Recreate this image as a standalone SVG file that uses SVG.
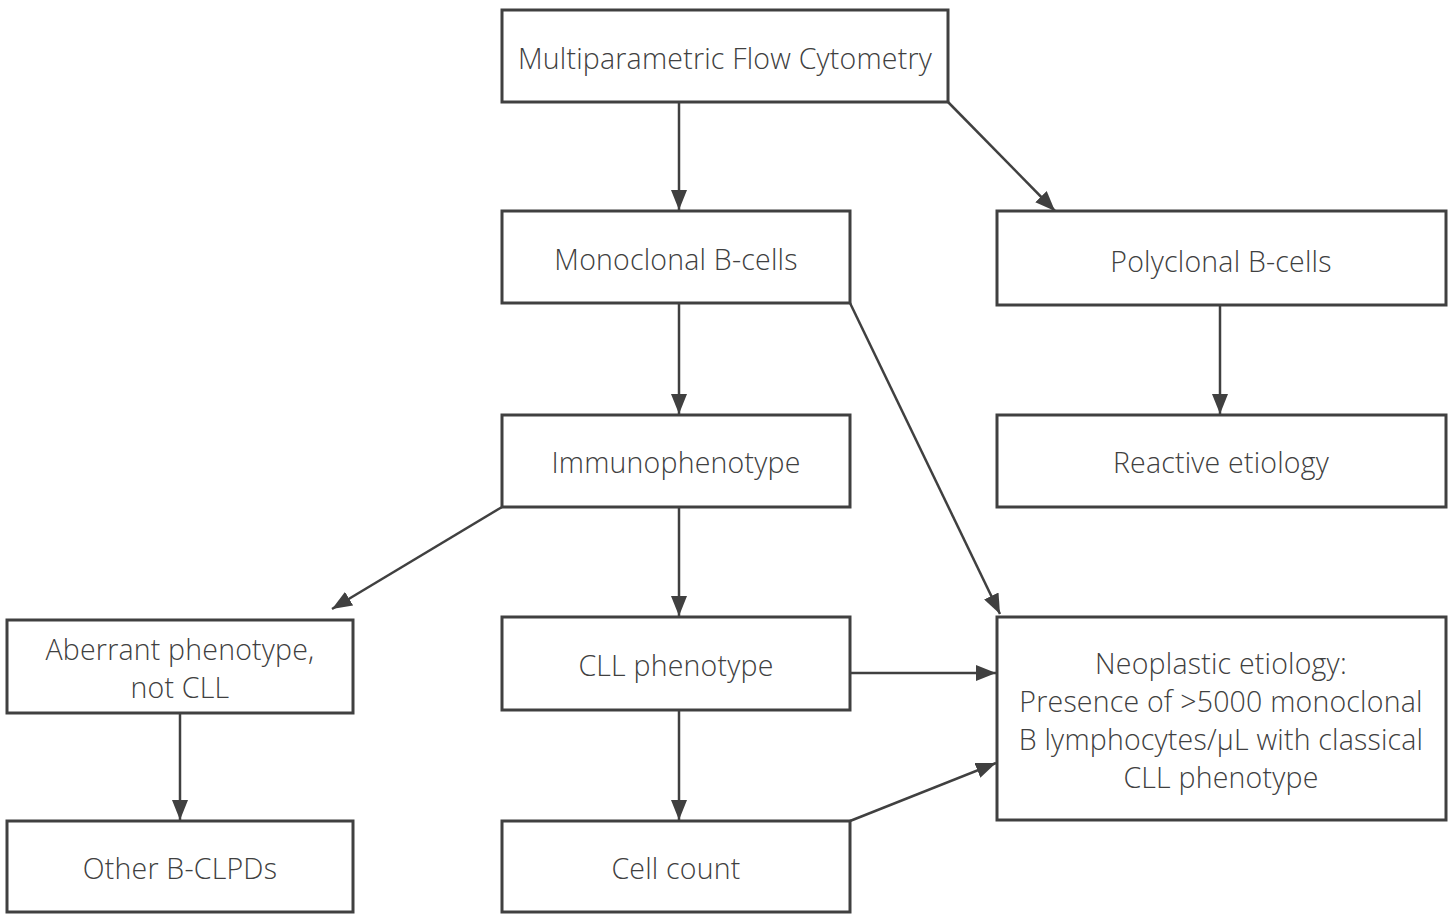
<svg xmlns="http://www.w3.org/2000/svg" width="1448" height="914" viewBox="0 0 1448 914">
<style>
.box{fill:#fff;stroke:#404040;stroke-width:3}
.t{font-family:"Open Sans","Noto Sans",sans-serif;font-weight:300;font-size:28.5px;letter-spacing:0.2px;fill:#404040;text-anchor:middle}
.c{stroke:#404040;stroke-width:2.5;fill:none;marker-end:url(#ah)}
</style>
<defs>
<marker id="ah" markerWidth="20" markerHeight="16" refX="20" refY="8" orient="auto" markerUnits="userSpaceOnUse">
<path d="M0,0 L20,8 L0,16 Z" fill="#404040"/>
</marker>
</defs>
<rect width="1448" height="914" fill="#fff"/>
<g id="connectors">
<line class="c" x1="679" y1="102" x2="679" y2="210"/>
<line class="c" x1="948" y1="102" x2="1055" y2="211"/>
<line class="c" x1="850" y1="303" x2="1000" y2="614"/>
<line class="c" x1="679" y1="303" x2="679" y2="414"/>
<line class="c" x1="1220" y1="305" x2="1220" y2="414"/>
<line class="c" x1="502" y1="507" x2="332" y2="609"/>
<line class="c" x1="679" y1="507" x2="679" y2="616"/>
<line class="c" x1="850" y1="673" x2="996" y2="673"/>
<line class="c" x1="679" y1="710" x2="679" y2="820"/>
<line class="c" x1="850" y1="821" x2="996" y2="763"/>
<line class="c" x1="180" y1="713" x2="180" y2="820"/>
</g>
<g id="n1"><rect class="box" x="502" y="10" width="446" height="92"/><text class="t" x="725" y="69">Multiparametric Flow Cytometry</text></g>
<g id="n2"><rect class="box" x="502" y="211" width="348" height="92"/><text class="t" x="676" y="270">Monoclonal B-cells</text></g>
<g id="n3"><rect class="box" x="997" y="211" width="449" height="94"/><text class="t" x="1221" y="272">Polyclonal B-cells</text></g>
<g id="n4"><rect class="box" x="502" y="415" width="348" height="92"/><text class="t" x="676" y="473">Immunophenotype</text></g>
<g id="n5"><rect class="box" x="997" y="415" width="449" height="92"/><text class="t" x="1221" y="473">Reactive etiology</text></g>
<g id="n6"><rect class="box" x="7" y="620" width="346" height="93"/><text class="t" x="180" y="660">Aberrant phenotype,</text><text class="t" x="180" y="698">not CLL</text></g>
<g id="n7"><rect class="box" x="502" y="617" width="348" height="93"/><text class="t" x="676" y="676">CLL phenotype</text></g>
<g id="n8"><rect class="box" x="997" y="617" width="449" height="203"/><text class="t" x="1221" y="674">Neoplastic etiology:</text><text class="t" x="1221" y="712">Presence of &gt;5000 monoclonal</text><text class="t" x="1221" y="750">B lymphocytes/µL with classical</text><text class="t" x="1221" y="788">CLL phenotype</text></g>
<g id="n9"><rect class="box" x="7" y="821" width="346" height="91"/><text class="t" x="180" y="879">Other B-CLPDs</text></g>
<g id="n10"><rect class="box" x="502" y="821" width="348" height="91"/><text class="t" x="676" y="879">Cell count</text></g>
</svg>
